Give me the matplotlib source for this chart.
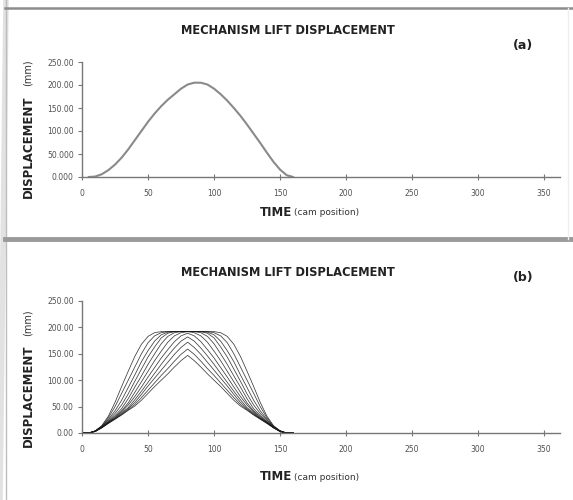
import numpy as np
import matplotlib
matplotlib.use("Agg")
import matplotlib.pyplot as plt
from matplotlib.lines import Line2D
from matplotlib.ticker import FixedLocator, FixedFormatter

plt.rcParams["font.family"] = ["DejaVu Sans Condensed", "DejaVu Sans"]

# (a) single lift profile
TIME_A = [5, 10, 15, 20, 25, 30, 35, 40, 45, 50, 55, 60, 65, 70, 75, 80,
          85, 90, 95, 100, 105, 110, 115, 120, 125, 130, 135, 140, 145, 150, 155, 160]
LIFT_A = [0, 1, 6, 15, 27, 42, 60, 80, 100, 120, 138, 154, 168, 180, 192, 201,
          205, 205, 201, 192, 180, 166, 150, 133, 114, 94, 74, 53, 33, 16, 4, 0]

# (b) family of lift profiles, outer to inner
TIME_B = list(range(0, 165, 5))
LIFT_B = [
    [0, 0, 4, 14, 32, 58, 88, 117, 145, 168, 183, 190, 192, 192, 192, 192, 192,
     192, 192, 192, 192, 190, 183, 168, 145, 117, 88, 58, 32, 14, 4, 0, 0],
    [0, 0, 4, 13, 29, 50, 75, 100, 125, 150, 171, 184, 190, 192, 192, 192, 192,
     192, 192, 192, 190, 184, 171, 150, 125, 100, 75, 50, 29, 13, 4, 0, 0],
    [0, 0, 4, 12, 26, 42, 62, 86, 110, 135, 156, 174, 186, 191, 192, 192, 192,
     192, 192, 191, 186, 174, 156, 135, 110, 86, 62, 42, 26, 12, 4, 0, 0],
    [0, 0, 4, 12, 24, 37, 53, 74, 98, 121, 144, 163, 180, 189, 192, 192, 192,
     192, 192, 189, 180, 163, 144, 121, 98, 74, 53, 37, 24, 12, 4, 0, 0],
    [0, 0, 3, 11, 22, 33, 46, 65, 87, 108, 130, 150, 169, 183, 190, 192, 192,
     192, 190, 183, 169, 150, 130, 108, 87, 65, 46, 33, 22, 11, 3, 0, 0],
    [0, 0, 3, 11, 21, 31, 42, 57, 77, 97, 117, 137, 155, 172, 184, 190, 192,
     190, 184, 172, 155, 137, 117, 97, 77, 57, 42, 31, 21, 11, 3, 0, 0],
    [0, 0, 3, 11, 20, 29, 40, 53, 69, 87, 106, 124, 142, 158, 173, 184, 189,
     184, 173, 158, 142, 124, 106, 87, 69, 53, 40, 29, 20, 11, 3, 0, 0],
    [0, 0, 3, 10, 20, 28, 38, 48, 63, 79, 96, 113, 130, 146, 161, 174, 182,
     174, 161, 146, 130, 113, 96, 79, 63, 48, 38, 28, 20, 10, 3, 0, 0],
    [0, 0, 3, 10, 19, 27, 36, 46, 58, 73, 89, 104, 119, 134, 149, 162, 172,
     162, 149, 134, 119, 104, 89, 73, 58, 46, 36, 27, 19, 10, 3, 0, 0],
    [0, 0, 3, 10, 19, 27, 35, 44, 54, 67, 81, 95, 109, 122, 136, 149, 159,
     149, 136, 122, 109, 95, 81, 67, 54, 44, 35, 27, 19, 10, 3, 0, 0],
    [0, 0, 3, 10, 18, 26, 34, 43, 51, 62, 75, 88, 100, 112, 125, 137, 147,
     137, 125, 112, 100, 88, 75, 62, 51, 43, 34, 26, 18, 10, 3, 0, 0],
]

X_TICKS = [0, 50, 100, 150, 200, 250, 300, 350]
Y_TICKS = [0, 50, 100, 150, 200, 250]
Y_LABELS_A = ["0.000", "50.000", "100.00", "150.00", "200.00", "250.00"]
Y_LABELS_B = ["0.00", "50.00", "100.00", "150.00", "200.00", "250.00"]

W, H = 573, 500


def fx(px):
    return px / W


def fy(py):
    return 1 - py / H


def style_axes(ax, ylabels):
    ax.set_xlim(0, 362)
    ax.set_ylim(0, 250)
    for s in ["top", "right"]:
        ax.spines[s].set_visible(False)
    for s in ["left", "bottom"]:
        ax.spines[s].set_color("#777777")
        ax.spines[s].set_linewidth(1.0)
    ax.xaxis.set_major_locator(FixedLocator(X_TICKS))
    ax.xaxis.set_major_formatter(FixedFormatter([str(t) for t in X_TICKS]))
    ax.yaxis.set_major_locator(FixedLocator(Y_TICKS))
    ax.yaxis.set_major_formatter(FixedFormatter(ylabels))
    ax.tick_params(axis="x", direction="inout", length=4, width=0.8,
                   color="#777777", labelsize=5.5, labelcolor="#505050", pad=7)
    ax.tick_params(axis="y", direction="out", length=3, width=0.8,
                   color="#777777", labelsize=5.5, labelcolor="#505050", pad=3)
    ax.patch.set_alpha(0)


def panel_text(title_y, tag, tag_y, xl_y, yl_top, yl_bottom):
    fig.text(fx(288), fy(title_y), "MECHANISM LIFT DISPLACEMENT", ha="center",
             va="center", fontsize=8.3, fontweight="bold", color="#222222")
    fig.text(fx(523), fy(tag_y), tag, ha="center", va="center",
             fontsize=9, fontweight="bold", color="#222222")
    fig.text(fx(292), fy(xl_y), "TIME", ha="right", va="center",
             fontsize=8.5, fontweight="bold", color="#222222")
    fig.text(fx(294), fy(xl_y), "(cam position)", ha="left", va="center",
             fontsize=6.5, color="#333333")
    fig.text(fx(28), fy(yl_bottom), "DISPLACEMENT", rotation=90, ha="center",
             va="bottom", fontsize=8.5, fontweight="bold", color="#222222")
    fig.text(fx(28), fy(yl_top), "(mm)", rotation=90, ha="center",
             va="bottom", fontsize=7, color="#333333")


fig = plt.figure(figsize=(W / 100, H / 100), dpi=100)

# scanned page frame
fig.add_artist(Line2D([fx(0), fx(6)], [0, 1], transform=fig.transFigure,
                      color="#e2e2e2", lw=4))
fig.add_artist(Line2D([fx(6), fx(6)], [0, 1], transform=fig.transFigure,
                      color="#bdbdbd", lw=1))
fig.add_artist(Line2D([fx(5), fx(573)], [fy(8), fy(8)], transform=fig.transFigure,
                      color="#8c8c8c", lw=1.8))
fig.add_artist(Line2D([fx(5), fx(573)], [fy(239), fy(239)], transform=fig.transFigure,
                      color="#9a9a9a", lw=3.5))
fig.add_artist(Line2D([fx(568), fx(568)], [fy(8), fy(239)], transform=fig.transFigure,
                      color="#eeeeee", lw=1))

ax_a = fig.add_axes([fx(82), fy(177), fx(560) - fx(82), (177 - 62) / H])
ax_a.plot(TIME_A, LIFT_A, color="#8a8a8a", lw=1.5, solid_capstyle="round")
style_axes(ax_a, Y_LABELS_A)

ax_b = fig.add_axes([fx(82), fy(433), fx(560) - fx(82), (433 - 301) / H])
for lift in LIFT_B:
    ax_b.plot(TIME_B, lift, color="#1a1a1a", lw=0.55, alpha=0.85)
style_axes(ax_b, Y_LABELS_B)

panel_text(31, "(a)", 45, 213, 86, 198)
panel_text(272, "(b)", 278, 477, 336, 447)

fig.savefig("out.png", dpi=100)
